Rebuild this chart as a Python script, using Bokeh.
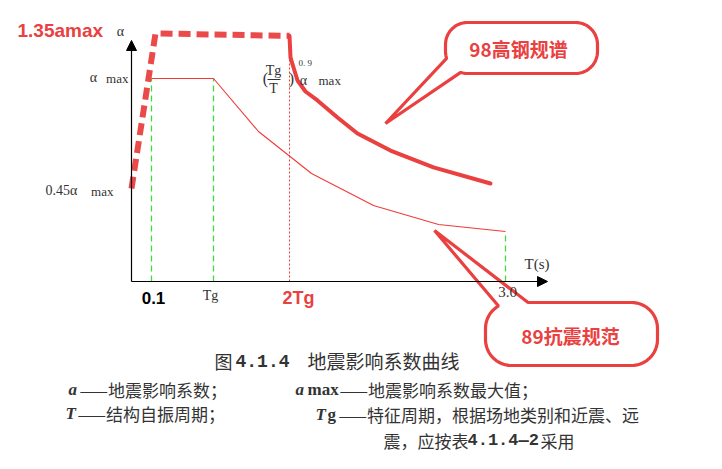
import numpy as np
from bokeh.plotting import figure
from bokeh.models import Range1d, Label, Arrow, NormalHead
from bokeh.embed import file_html
from bokeh.resources import INLINE

# ---------------- data (schematic T-axis units, alpha / alpha_max) ----------------
t_tick_pos = [0.20, 0.82, 1.58, 3.74]
t_tick_labels = ["0.1", "Tg", "2Tg", "3.0"]

code89_t = [0.20, 0.82, 1.27, 1.80, 2.42, 3.07, 3.74]
code89_a = [1.00, 1.00, 0.739, 0.532, 0.374, 0.281, 0.246]

code98_rise_t = [0.00, 0.24, 1.58]
code98_rise_a = [0.458, 1.222, 1.21]

code98_decay_t = [1.58, 1.59, 1.66, 1.74, 1.86, 2.06, 2.26, 2.59, 3.02, 3.59]
code98_decay_a = [1.21, 1.103, 0.990, 0.936, 0.892, 0.808, 0.729, 0.645, 0.562, 0.483]

green_guide_t = [0.20, 0.82, 3.74]
green_guide_top = [1.00, 1.00, 0.246]

two_tg_t = 1.58
two_tg_top = 1.21

# ---------------- layout helpers (reference-pixel -> axis units) ----------------
def X(px):
    return (px - 131) / 100.0

def Y(py):
    return (281 - py) / 203.0

OFF = 0
W, H = 706, 453
p = figure(width=W, height=H, output_backend="svg", toolbar_location=None,
           x_range=Range1d(X(OFF), X(OFF + W)), y_range=Range1d(Y(OFF + H), Y(OFF)),
           min_border=0, min_border_left=0, min_border_right=0,
           min_border_top=0, min_border_bottom=0)
p.axis.visible = False
p.grid.visible = False
p.outline_line_color = None
p.background_fill_color = "white"
p.border_fill_color = "white"

RED = "#ea4040"
THIN_RED = "#f23a3a"
GREEN = "#3ddc3d"
GRAY = "#333333"

# ---------------- speech bubbles ----------------
def bubble(x0, y0, x1, y1, r, tip, a, b):
    pts = []
    corners = [(x1 - r, y0 + r, -90, 0), (x1 - r, y1 - r, 0, 90),
               (x0 + r, y1 - r, 90, 180), (x0 + r, y0 + r, 180, 270)]
    prev = None
    for cx, cy, a0, a1 in corners:
        arc = [(cx + r * np.cos(t), cy + r * np.sin(t))
               for t in np.linspace(np.radians(a0), np.radians(a1), 16)]
        if prev is not None:
            for s in np.linspace(0, 1, 30)[1:-1]:
                pts.append((prev[0] + (arc[0][0] - prev[0]) * s,
                            prev[1] + (arc[0][1] - prev[1]) * s))
        pts.extend(arc)
        prev = arc[-1]
    first = pts[0]
    for s in np.linspace(0, 1, 30)[1:-1]:
        pts.append((prev[0] + (first[0] - prev[0]) * s, prev[1] + (first[1] - prev[1]) * s))
    n = len(pts)
    d = lambda q, P: (q[0] - P[0]) ** 2 + (q[1] - P[1]) ** 2
    i = min(range(n), key=lambda k: d(pts[k], a))
    j = min(range(n), key=lambda k: d(pts[k], b))
    if (j - i) % n > n / 2:
        i, j = j, i
    kept = [pts[(j + k) % n] for k in range((i - j) % n + 1)] + [tip]
    xs = [X(q[0]) for q in kept]
    ys = [Y(q[1]) for q in kept]
    p.patch(xs, ys, fill_color="white", line_color=RED, line_width=3.2)

bubble(445, 22, 597, 73, 22, (385, 123), (447, 57), (460, 70))
bubble(485, 302, 657, 365, 26, (434, 230), (499, 305), (527, 302))

# ---------------- guides ----------------
for t, top in zip(green_guide_t, green_guide_top):
    p.line([t, t], [0, top], line_color=GREEN, line_width=1.3, line_dash="6 4")
p.line([two_tg_t, two_tg_t], [0, two_tg_top], line_color=THIN_RED, line_width=1, line_dash="2 2")

# ---------------- curves ----------------
p.line(code89_t, code89_a, line_color=THIN_RED, line_width=1.1)
p.line(code98_rise_t, code98_rise_a, line_color=RED, line_width=6, line_dash="12 6", line_alpha=0.95)
p.line(code98_decay_t, code98_decay_a, line_color=RED, line_width=4, line_join="round", line_cap="round")

# ---------------- axes ----------------
p.add_layout(Arrow(end=NormalHead(size=10, fill_color="black", line_color="black"),
                   x_start=0, y_start=0, x_end=X(547), y_end=0, line_width=1.2, line_color="black"))
p.add_layout(Arrow(end=NormalHead(size=10, fill_color="black", line_color="black"),
                   x_start=0, y_start=0, x_end=0, y_end=Y(40), line_width=1.2, line_color="black"))

def L(text, px, py, size, font="Liberation Serif", color=GRAY, style="normal",
      align="left", baseline="middle"):
    p.add_layout(Label(x=X(px), y=Y(py), text=text, text_font=font,
                       text_font_size=f"{size}px", text_color=color,
                       text_font_style=style, text_align=align,
                       text_baseline=baseline))

# tick labels
tick_styles = [
    dict(size=17, font="Liberation Sans", color="black", style="bold", dy=297),
    dict(size=14, font="Liberation Serif", color=GRAY, style="normal", dy=295),
    dict(size=18, font="Liberation Sans", color=RED, style="bold", dy=297),
    dict(size=15, font="Liberation Serif", color=GRAY, style="normal", dy=291),
]
tick_dx = [2, -3, 9, 2]
for t, lab, st, dx in zip(t_tick_pos, t_tick_labels, tick_styles, tick_dx):
    p.add_layout(Label(x=t + dx / 100.0, y=Y(st["dy"]), text=lab, text_font=st["font"],
                       text_font_size=f'{st["size"]}px', text_color=st["color"],
                       text_font_style=st["style"], text_align="center",
                       text_baseline="middle"))

L("T(s)", 524, 263, 15)
L("α", 120, 31, 14, align="center")
L("α", 93, 77, 14, align="center")
L("max", 128, 78, 13, align="right")
L("0.45α", 45, 190, 14)
L("max", 113, 191, 13, align="right")
L("1.35amax", 17, 30, 19, font="Liberation Sans", color=RED, style="bold")

# (Tg/T)^0.9 α max
L("(", 265, 78, 16, align="center")
L("Tg", 273, 70, 14, align="center")
L("T", 273, 88, 14, align="center")
p.segment(X(267), Y(79), X(280), Y(79), line_color=GRAY, line_width=1)
L(")", 291, 78, 16, align="center")
L("0. 9", 298, 62, 9)
L("α", 303, 80, 14, align="center")
L("max", 318, 80, 13)

# bubble texts
L("98高钢规谱", 518, 48, 19, font="Noto Sans CJK SC", color=RED, style="bold", align="center")
L("89抗震规范", 570, 335, 19, font="Noto Sans CJK SC", color=RED, style="bold", align="center")

# caption
CJK = "Noto Sans CJK SC"
L("图", 214, 360, 18, font=CJK)
L("4.1.4", 235, 360, 18, font="Liberation Mono", style="bold")
L("地震影响系数曲线", 307, 360, 19, font=CJK)

L("a", 68, 389, 17, style="bold italic")
L("——地震影响系数；", 79, 389, 17, font=CJK)
L("a", 295, 389, 17, style="bold italic")
L("max", 307, 389, 17, style="bold")
L("——地震影响系数最大值；", 339, 389, 17, font=CJK)

L("T", 65, 413, 17, style="bold italic")
L("——结构自振周期；", 77, 413, 17, font=CJK)
L("T", 315, 414, 17, style="bold italic")
L("g", 327, 414, 17, style="bold")
L("——特征周期，根据场地类别和近震、远", 338, 414, 17, font=CJK)
L("震，应按表", 383, 440, 17, font=CJK)
L("4.1.4—2", 467, 440, 17, font="Liberation Mono", style="bold")
L("采用", 540, 440, 17, font=CJK)

open("out.html", "w").write(file_html(p, INLINE))
